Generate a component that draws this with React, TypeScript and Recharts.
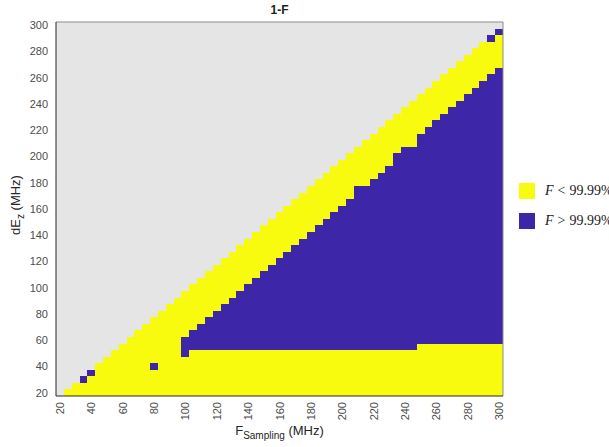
import { ComposedChart, XAxis, YAxis, ReferenceArea, ReferenceLine } from 'recharts'

// one column per sampling frequency (MHz), cells are 5 MHz tall
const fSampling = [
  20, 25, 30, 35, 40, 45, 50, 55, 60, 65, 70, 75, 80, 85, 90, 95,
  100, 105, 110, 115, 120, 125, 130, 135, 140, 145, 150, 155, 160, 165, 170, 175,
  180, 185, 190, 195, 200, 205, 210, 215, 220, 225, 230, 235, 240, 245,
  250, 255, 260, 265, 270, 275, 280, 285, 290, 295, 300,
]

// highest non-grey dEz cell in each column (below it everything is coloured)
const yellowTop = [
  15, 20, 25, 30, 35, 40, 45, 50, 55, 60, 65, 70, 75, 80, 85, 90,
  95, 100, 105, 110, 115, 120, 125, 130, 135, 140, 145, 150, 155, 160, 165, 170,
  175, 180, 185, 190, 195, 200, 205, 210, 215, 220, 225, 230, 235, 240,
  245, 250, 255, 260, 265, 270, 275, 280, 285, 290, 295,
]

// blue band (F > 99.99%) per column, null = no band
const blueLow: (number | null)[] = [
  null, null, null, null, null, null, null, null, null, null, null, null, null, null, null, null,
  50, 55, 55, 55, 55, 55, 55, 55, 55, 55, 55, 55, 55, 55, 55, 55,
  55, 55, 55, 55, 55, 55, 55, 55, 55, 55, 55, 55, 55, 55,
  60, 60, 60, 60, 60, 60, 60, 60, 60, 60, 60,
]
const blueHigh: (number | null)[] = [
  null, null, null, null, null, null, null, null, null, null, null, null, null, null, null, null,
  60, 65, 70, 75, 80, 85, 90, 95, 100, 105, 110, 115, 120, 125, 130, 135,
  140, 145, 150, 155, 160, 165, 175, 175, 180, 185, 190, 200, 205, 205,
  215, 220, 225, 230, 235, 240, 245, 250, 255, 260, 265,
]

// single blue cells outside the band
const blueSpots = [
  { fs: 35, dez: 30 },
  { fs: 40, dez: 35 },
  { fs: 80, dez: 40 },
  { fs: 295, dez: 290 },
  { fs: 300, dez: 295 },
]

const xTicks = [20, 40, 60, 80, 100, 120, 140, 160, 180, 200, 220, 240, 260, 280, 300]
const yTicks = [20, 40, 60, 80, 100, 120, 140, 160, 180, 200, 220, 240, 260, 280, 300]

const HALF = 2.5
const LO = 17.5
const HI = 302.5

const GREY = '#e5e5e5'
const YELLOW = '#f9fb0e'
const BLUE = '#3e26a8'
const TICK = '#4d4d4d'
const SANS = '"Liberation Sans", Arial, sans-serif'
const SERIF = '"Liberation Serif", serif'

function XTick(props: any) {
  const { x, y, payload } = props
  return (
    <text
      x={x}
      y={y - 2}
      transform={`rotate(-90 ${x} ${y - 2})`}
      textAnchor="end"
      dominantBaseline="central"
      fontSize={11}
      fontFamily={SANS}
      fill={TICK}
    >
      {payload.value}
    </text>
  )
}

function LegendRow({ top, color, sign }: { top: number; color: string; sign: string }) {
  return (
    <>
      <div style={{ position: 'absolute', left: 519, top, width: 16, height: 16, background: color }} />
      <div style={{ position: 'absolute', left: 545, top: top - 2, whiteSpace: 'nowrap', fontFamily: SERIF, fontSize: 14, color: '#222', lineHeight: '20px' }}>
        <i>F</i>
        <span style={{ margin: '0 4px' }}>{sign}</span>
        99.99%
      </div>
    </>
  )
}

export default function App() {
  const cells: any[] = []
  fSampling.forEach((fs, i) => {
    if (yellowTop[i] >= 20) {
      cells.push(
        <ReferenceArea
          key={`y-${fs}`}
          x1={fs - HALF}
          x2={fs + HALF}
          y1={LO}
          y2={yellowTop[i] + HALF}
          fill={YELLOW}
          fillOpacity={1}
          shapeRendering="crispEdges"
        />
      )
    }
  })
  fSampling.forEach((fs, i) => {
    const lo = blueLow[i]
    const hi = blueHigh[i]
    if (lo != null && hi != null) {
      cells.push(
        <ReferenceArea
          key={`b-${fs}`}
          x1={fs - HALF}
          x2={fs + HALF}
          y1={lo - HALF}
          y2={hi + HALF}
          fill={BLUE}
          fillOpacity={1}
          shapeRendering="crispEdges"
        />
      )
    }
  })
  blueSpots.forEach((s) => {
    cells.push(
      <ReferenceArea
        key={`s-${s.fs}-${s.dez}`}
        x1={s.fs - HALF}
        x2={s.fs + HALF}
        y1={s.dez - HALF}
        y2={s.dez + HALF}
        fill={BLUE}
        fillOpacity={1}
        shapeRendering="crispEdges"
      />
    )
  })

  return (
    <div style={{ position: 'absolute', left: 0, top: 0, width: 609, height: 447, overflow: 'hidden', background: '#fff' }}>
      <ComposedChart width={609} height={447} margin={{ top: 22, right: 106, bottom: 0, left: 0 }}>
        <XAxis
          type="number"
          dataKey="fs"
          domain={[LO, HI]}
          ticks={xTicks}
          interval={0}
          height={51}
          tickLine={false}
          axisLine={{ stroke: '#262626' }}
          tick={<XTick />}
          allowDataOverflow
        />
        <YAxis
          type="number"
          domain={[LO, HI]}
          ticks={yTicks}
          interval={0}
          width={56}
          tickLine={false}
          axisLine={{ stroke: '#262626' }}
          tick={{ fontSize: 11, fill: TICK, fontFamily: SANS }}
          allowDataOverflow
        />
        <ReferenceArea x1={LO} x2={HI} y1={LO} y2={HI} fill={GREY} fillOpacity={1} shapeRendering="crispEdges" />
        {cells}
        <ReferenceLine y={HI} stroke="#8c8c8c" />
        <ReferenceLine x={HI} stroke="#8c8c8c" />
      </ComposedChart>

      <div style={{ position: 'absolute', left: 0, width: 559, top: 3, textAlign: 'center', fontFamily: SANS, fontSize: 12, fontWeight: 'bold', color: '#222' }}>
        1-F
      </div>

      <div style={{ position: 'absolute', left: 0, width: 559, top: 423, textAlign: 'center', fontFamily: SANS, fontSize: 13, color: '#262626', lineHeight: '16px' }}>
        F<span style={{ fontSize: 10, position: 'relative', top: 4 }}>Sampling</span> (MHz)
      </div>

      <div style={{ position: 'absolute', left: -84, width: 200, top: 197, height: 16, textAlign: 'center', fontFamily: SANS, fontSize: 13, color: '#262626', lineHeight: '16px', transform: 'rotate(-90deg)' }}>
        dE<span style={{ fontSize: 10, position: 'relative', top: 4 }}>z</span> (MHz)
      </div>

      <LegendRow top={183} color={YELLOW} sign="<" />
      <LegendRow top={213} color={BLUE} sign=">" />
    </div>
  )
}
